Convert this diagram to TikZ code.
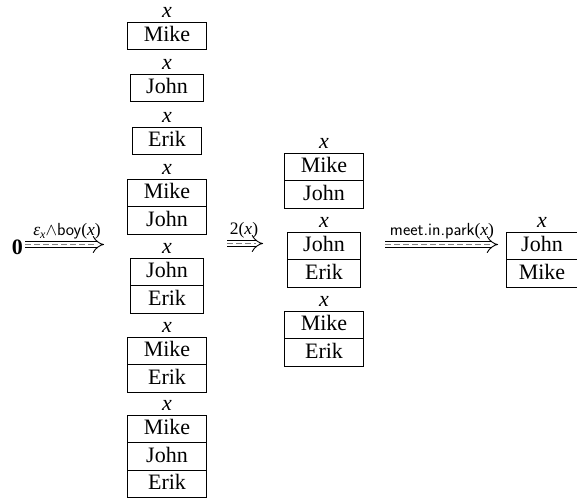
\documentclass[tikz,border=0pt]{standalone}
\usepackage{fontspec}
\setmainfont{Liberation Serif}
\usetikzlibrary{shapes.multipart,arrows.meta}
% italic variable and a strut that fixes the height of each table row
\newcommand\vx{\textit{x}}
\newcommand\cellname[1]{\rule[-5pt]{0pt}{21pt}#1}
\newcommand\lblfont{\fontsize{17.5}{19}\selectfont}
\begin{document}
\begin{tikzpicture}[x=1pt,y=-1pt,
  font=\fontsize{22}{26}\selectfont,
  cell/.style={rectangle split, rectangle split parts=#1, draw,
    line width=0.9pt, inner xsep=16pt, inner ysep=2.75pt, anchor=north},
  var/.style={anchor=base, inner sep=0pt},
  lbl/.style={anchor=base, inner sep=0pt, font=\lblfont},
  dbl/.style={double, double distance=5.2pt, line width=0.9pt, -{Implies[length=6.5pt]}},
  midline/.style={line width=0.5pt, draw=black!50, dash pattern=on 6pt off 3pt}]
\useasboundingbox (0,0) rectangle (577,498);

% start symbol
\node[anchor=base, inner sep=0pt] (zero) at (17.5,254) {\textbf{0}};

% first column: every non-empty set of names
\node[var] (v11) at (167,17) {\vx};
\node[cell=1] (b11) at (167,22) {\cellname{Mike}};
\node[var] (v12) at (167,69) {\vx};
\node[cell=1] (b12) at (167,74) {\cellname{John}};
\node[var] (v13) at (167,122) {\vx};
\node[cell=1] (b13) at (167,127) {\cellname{Erik}};
\node[var] (v14) at (167,174) {\vx};
\node[cell=2] (b14) at (167,179) {\cellname{Mike}\nodepart{two}\cellname{John}};
\node[var] (v15) at (167,253) {\vx};
\node[cell=2] (b15) at (167,258) {\cellname{John}\nodepart{two}\cellname{Erik}};
\node[var] (v16) at (167,332) {\vx};
\node[cell=2] (b16) at (167,337) {\cellname{Mike}\nodepart{two}\cellname{Erik}};
\node[var] (v17) at (167,410) {\vx};
\node[cell=3] (b17) at (167,415) {\cellname{Mike}\nodepart{two}\cellname{John}\nodepart{three}\cellname{Erik}};

% second column: pairs
\node[var] (v21) at (324,148) {\vx};
\node[cell=2] (b21) at (324,153) {\cellname{Mike}\nodepart{two}\cellname{John}};
\node[var] (v22) at (324,227) {\vx};
\node[cell=2] (b22) at (324,232) {\cellname{John}\nodepart{two}\cellname{Erik}};
\node[var] (v23) at (324,306) {\vx};
\node[cell=2] (b23) at (324,311) {\cellname{Mike}\nodepart{two}\cellname{Erik}};

% third column: result
\node[var] (v31) at (542,227) {\vx};
\node[cell=2, inner xsep=12.3pt] (b31) at (542,232) {\cellname{John}\nodepart{two}\cellname{Mike}};

% arrow end points
\coordinate (a1s) at (25,244.5);   \coordinate (a1e) at (104,244.5);
\coordinate (a2s) at (227,243.5);  \coordinate (a2e) at (263,243.5);
\coordinate (a3s) at (385,244.5);  \coordinate (a3e) at (498,244.5);

% transition arrows
\draw[dbl] (a1s) -- (a1e);
\draw[midline] (a1s) -- ([xshift=-7pt]a1e);
\draw[dbl] (a2s) -- (a2e);
\draw[midline] (a2s) -- ([xshift=-7pt]a2e);
\draw[dbl] (a3s) -- (a3e);
\draw[midline] (a3s) -- ([xshift=-7pt]a3e);

% arrow labels
\node[lbl] (l1) at (67,235.5) {\textit{ε}\raisebox{-2.8pt}{\fontsize{12}{13}\selectfont\textit{x}}$\wedge$\textsf{boy}(\textit{x})};
\node[lbl] (l2) at (244,234.5) {2(\textit{x})};
\node[lbl] (l3) at (442,235.5) {\textsf{meet.in.park}(\textit{x})};
\end{tikzpicture}
\end{document}
